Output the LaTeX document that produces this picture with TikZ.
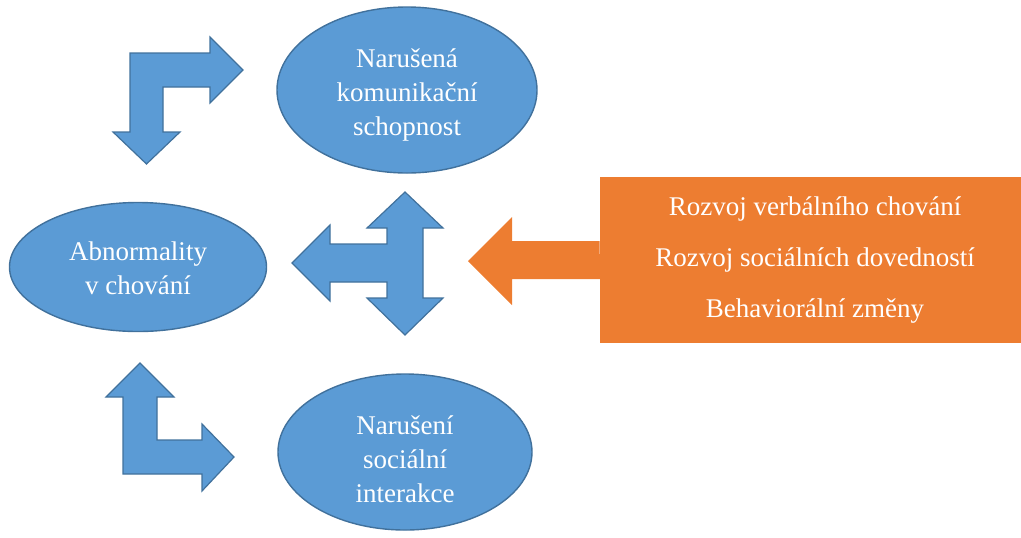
\documentclass[tikz,border=0pt]{standalone}
\usepackage{fontspec}
\setmainfont{Liberation Serif}
\usetikzlibrary{shapes}
\definecolor{wordblue}{HTML}{5B9BD5}
\definecolor{wordedge}{HTML}{41719C}
\definecolor{wordorange}{HTML}{ED7D31}
\begin{document}
\begin{tikzpicture}[x=0.5pt,y=-0.5pt,
blob/.style={draw=wordedge, line width=0.7pt, fill=wordblue, shape=ellipse, inner sep=0pt},
blobtext/.style={align=center, text=white, font=\fontsize{13.5}{17}\selectfont},
bigarrow/.style={draw=wordedge, line width=0.6pt, fill=wordblue, line join=miter}]
\useasboundingbox (0,0) rectangle (1021,537);
\node[blob, minimum width=130pt, minimum height=83pt, label={[blobtext, yshift=-2.5pt]center:Narušená\\komunikační\\schopnost}] (komunikace) at (407,90) {};
\node[blob, minimum width=128.5pt, minimum height=64.5pt, label={[blobtext, yshift=-0.5pt]center:Abnormality\\v chování}] (chovani) at (138,267) {};
\node[blob, minimum width=127pt, minimum height=78pt, label={[blobtext, yshift=-3.5pt]center:Narušení\\sociální\\interakce}] (interakce) at (405,452) {};
\node[fill=wordorange, text=white, minimum width=215pt, minimum height=83pt, align=center, font=\fontsize{13.5}{25.5}\selectfont] (zmeny) at (815,260) {Rozvoj verbálního chování\\Rozvoj sociálních dovedností\\Behaviorální změny};
\draw[bigarrow] (113,132) -- (130,132) -- (130,53) -- (210,53) -- (210,37) -- (243,70) -- (210,103) -- (210,87) -- (163,87) -- (163,132) -- (180,132) -- (146.5,164) -- cycle;
\draw[bigarrow] (292,263) -- (330,225) -- (330,244) -- (387,244) -- (387,228) -- (367,228) -- (405,192) -- (443,228) -- (423,228) -- (423,298) -- (443,298) -- (405,335) -- (367,298) -- (387,298) -- (387,282) -- (330,282) -- (330,301) -- cycle;
\draw[bigarrow] (106,397) -- (140,363) -- (174,397) -- (157,397) -- (157,440) -- (202,440) -- (202,424) -- (234,457) -- (202,491) -- (202,474) -- (123,474) -- (123,397) -- cycle;
\fill[wordorange] (zmeny.west) ++(0,-19) -- (512,241) -- (512,217) -- (468,261) -- (512,305) -- (512,279) -- ++(88,0) -- cycle;
\end{tikzpicture}
\end{document}
